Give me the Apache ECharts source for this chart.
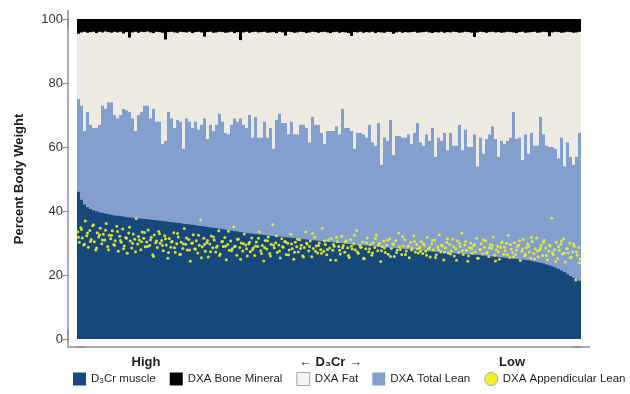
<!DOCTYPE html>
<html>
<head>
<meta charset="utf-8">
<script src="https://cdn.jsdelivr.net/npm/echarts@6/dist/echarts.min.js"></script>
<style>
  html, body { margin: 0; padding: 0; background: #fff; }
  #chart { width: 630px; height: 394px; }
</style>
</head>
<body>
<div id="chart"></div>
<script>
// subjects ranked by D3Cr muscle, high -> low (percent of body weight)
const d3crMuscle = [
  46, 43.5, 42, 41.2, 40.6, 40.2, 39.9, 39.6, 39.4, 39.2,
  39.0, 38.8, 38.6, 38.5, 38.4, 38.3, 38.1, 38.0, 37.9, 37.8,
  37.7, 37.6, 37.5, 37.4, 37.3, 37.2, 37.1, 37.0, 36.9, 36.8,
  36.6, 36.5, 36.4, 36.3, 36.2, 36.0, 35.9, 35.8, 35.7, 35.6,
  35.4, 35.3, 35.2, 35.0, 34.9, 34.8, 34.6, 34.5, 34.3, 34.2,
  34.0, 33.9, 33.7, 33.6, 33.4, 33.3, 33.1, 33.0, 32.9, 32.8,
  32.7, 32.6, 32.5, 32.4, 32.3, 32.2, 32.1, 32.0, 31.9, 31.8,
  31.7, 31.6, 31.5, 31.4, 31.3, 31.2, 31.1, 31.0, 30.9, 30.8,
  30.7, 30.6, 30.5, 30.4, 30.3, 30.2, 30.1, 30.0, 29.9, 29.8,
  29.7, 29.6, 29.5, 29.4, 29.3, 29.3, 29.2, 29.1, 29.0, 28.9,
  28.8, 28.7, 28.6, 28.6, 28.5, 28.4, 28.4, 28.3, 28.2, 28.1,
  28.0, 28.0, 27.9, 27.8, 27.7, 27.6, 27.5, 27.4, 27.3, 27.2,
  27.1, 27.1, 27.0, 26.9, 26.9, 26.8, 26.7, 26.7, 26.6, 26.5,
  26.5, 26.4, 26.3, 26.3, 26.2, 26.1, 26.0, 25.9, 25.8, 25.7,
  25.6, 25.5, 25.4, 25.3, 25.2, 25.1, 25.0, 24.9, 24.8, 24.7,
  24.6, 24.4, 24.2, 24.0, 23.8, 23.6, 23.3, 23.0, 22.7, 22.3,
  21.9, 21.4, 20.9, 20.3, 19.7, 19.1, 18.6, 18.2
];

const dxaLean = [
  75, 73, 65, 71, 67, 66, 66, 67, 73, 72,
  74, 74, 70, 69, 70, 72, 71.5, 71, 69, 65,
  70, 71, 73, 73, 69, 72, 68, 68, 61, 62,
  71, 69, 66, 68.5, 68, 59.5, 69, 68, 66, 68,
  65.5, 67, 69, 62.5, 67, 65, 67, 70.5, 68, 64.5,
  64, 67, 69, 68, 69, 67, 66, 70, 63, 69.5,
  63, 63, 68, 63, 66, 59.5, 68.5, 70.5, 67.5, 67.5,
  64, 68, 64, 64, 67, 67, 66, 61.5, 69.5, 67,
  67, 64.5, 61, 65, 65, 65, 66.5, 64, 72, 66,
  66, 65, 59.5, 64.5, 64.5, 64, 63, 67, 61.5, 60.5,
  67.5, 54.5, 63, 62, 68.5, 57.5, 63.5, 63.5, 63, 63,
  64, 61, 64.5, 67.5, 61.5, 60.5, 64, 62, 66, 57,
  63, 62, 64.5, 59, 64.5, 60.5, 60.5, 67, 59, 65.5,
  60, 60, 64, 54, 63, 58, 62.5, 64, 66.5, 62.5,
  57, 62, 61, 62, 63, 71, 62.5, 63, 56, 64,
  58, 64.5, 60.5, 60.5, 69.5, 64, 60.5, 60, 60, 59.5,
  56.5, 63, 54, 61.5, 57, 54.5, 57, 64.5
];

const dxaFat = [
  20.4, 22.8, 31, 24.7, 28.9, 30, 29.6, 29, 22.8, 24.1,
  21.9, 21.7, 26, 26.8, 26, 23.5, 24.4, 23.2, 26.8, 31,
  25.7, 25, 22.9, 23.1, 26.8, 23.6, 28, 27.9, 34.7, 31.6,
  24.9, 27, 29.8, 27.2, 28, 36.4, 26.8, 28, 29.6, 27.9,
  30.5, 28.8, 25.5, 33.4, 29, 30.7, 28.8, 25.5, 27.9, 31.2,
  31.8, 29, 26.6, 27.9, 24.4, 28.8, 30, 25.7, 32.9, 26.5,
  32.8, 32.9, 28, 32.7, 29.8, 36.4, 27.1, 25.5, 28.3, 27.3,
  32, 27.9, 31.7, 31.8, 29, 28.9, 29.6, 34.3, 26.5, 28.9,
  28.7, 31.4, 35, 30.8, 30.6, 30.9, 29.5, 31.7, 23.9, 29.8,
  29.6, 29.7, 36.4, 31.3, 31.5, 31.7, 32.9, 28.8, 34.5, 35.1,
  28.4, 41.3, 32.7, 34, 27.4, 37.9, 32.3, 32.5, 32.7, 32.9,
  31.8, 34.9, 31.5, 28.2, 34.3, 35.4, 32, 33.8, 29.6, 38.9,
  32.8, 34, 31.2, 36.9, 31.3, 35.5, 35.4, 28.7, 36.8, 30.5,
  35.9, 35.7, 30.4, 41.8, 33, 37.9, 33.2, 31.9, 29.5, 33.3,
  38.9, 33.7, 34.8, 34, 32.9, 24.8, 33.1, 32.9, 40, 31.7,
  37.8, 31.4, 35.5, 35.2, 26.3, 32, 35.4, 34.6, 35.8, 36.5,
  39.4, 32.7, 41.8, 34.5, 38.9, 41.2, 38.8, 31.5
];

const dxaBone = [
  4.6, 4.2, 4, 4.3, 4.1, 4, 4.4, 4, 4.2, 3.9,
  4.1, 4.3, 4, 4.2, 4, 4.5, 4.1, 5.8, 4.2, 4,
  4.3, 4, 4.1, 3.9, 4.2, 4.4, 4, 4.1, 4.3, 6.4,
  4.1, 4, 4.2, 4.3, 4, 4.1, 4.2, 4, 4.4, 4.1,
  4, 4.2, 5.5, 4.1, 4, 4.3, 4.2, 4, 4.1, 4.3,
  4.2, 4, 4.4, 4.1, 6.6, 4.2, 4, 4.3, 4.1, 4,
  4.2, 4.1, 4, 4.3, 4.2, 4.1, 4.4, 4, 4.2, 5.2,
  4, 4.1, 4.3, 4.2, 4, 4.1, 4.4, 4.2, 4, 4.1,
  4.3, 4.1, 4, 4.2, 4.4, 4.1, 4, 4.3, 4.1, 4.2,
  4.4, 5.3, 4.1, 4.2, 4, 4.3, 4.1, 4.2, 4, 4.4,
  4.1, 4.2, 4.3, 4, 4.1, 4.6, 4.2, 4, 4.3, 4.1,
  4.2, 4.1, 4, 4.3, 4.2, 4.1, 4, 4.2, 4.4, 4.1,
  4.2, 4, 4.3, 4.1, 4.2, 4, 4.1, 4.3, 4.2, 4,
  4.1, 4.3, 5.6, 4.2, 4, 4.1, 4.3, 4.1, 4, 4.2,
  4.1, 4.3, 4.2, 4, 4.1, 4.2, 4.4, 4.1, 4, 4.3,
  4.2, 4.1, 4, 4.3, 4.2, 4, 4.1, 5.4, 4.2, 4,
  4.1, 4.3, 4.2, 4, 4.1, 4.3, 4.2, 4
];

// DXA appendicular lean, same ranking (two subjects per bar slot)
const dxaAppLean = [
  33.5, 30.2, 34.8, 31.6, 29.4, 36.9, 32.3, 28.7, 33.9, 31.1, 35.4, 30.4, 27.8, 33.2, 31.9, 34.6, 29.8, 32.7, 30.9, 36.1, 28.9, 32.4,
  31.3, 33.8, 29.5, 30.7, 35.2, 27.4, 32.1, 30.2, 34.4, 29.1, 31.7, 26.8, 33.1, 30.6, 28.4, 32.8, 31.2, 37.6, 29.7, 30.9, 27.9, 33.4,
  31.5, 28.8, 30.3, 34.1, 29.2, 31.8, 26.3, 32.5, 30.1, 28.6, 33.6, 29.9,
  30.8, 27.6, 32.3, 29.4, 25.2, 31.4, 28.7, 30.5, 33.2, 27.1, 29.8, 31.9, 26.4, 30.2, 28.3, 34.5, 29.6, 27.8, 31.1, 24.3,
  29.9, 32.6, 28.1, 30.7, 26.9, 29.3, 37.2, 28.8, 31.5, 27.4, 30.1, 25.6, 29.7, 32.2, 28.5, 30.9, 27.2, 29.1, 33.8, 26.6,
  30.4, 28.9, 31.7, 24.8, 29.5, 27.7, 30.6, 28.2, 35.1, 29.0, 26.2, 31.2, 28.6, 30.0, 27.5, 32.8, 29.4, 25.9,
  29.8, 27.3, 31.6, 28.4, 26.1, 30.3, 28.9, 33.5, 27.6, 29.2, 24.4, 30.8, 28.1, 31.9, 26.7, 29.6, 35.8, 28.5, 30.1, 27.0,
  29.4, 25.3, 31.3, 28.7, 30.5, 26.4, 29.9, 27.8, 32.7, 28.2, 24.9, 30.2, 28.8, 27.2, 31.0, 29.3, 26.0, 28.6, 33.4, 29.7,
  27.5, 30.6, 25.7, 28.3, 31.8, 29.1, 26.9, 30.0, 28.0, 34.6, 27.4, 29.5, 26.3, 30.9, 28.4, 31.4, 27.7, 29.0, 24.6, 30.4,
  28.9, 26.6, 32.1, 29.2, 27.1, 30.7, 28.5, 25.5, 31.1, 28.1, 29.8, 27.9, 33.9, 26.8, 29.3, 28.7, 30.3, 25.1, 28.2, 31.6,
  27.3, 29.6, 26.2, 30.1, 28.6, 32.5, 27.6, 29.9, 24.2, 28.8, 30.6, 27.0, 29.4, 26.5, 31.3, 28.3, 29.7, 25.8, 30.8, 27.8,
  33.1, 28.0, 26.4, 29.1, 31.0, 27.5, 28.9, 25.4, 30.2, 28.4, 32.3, 27.2, 29.5, 26.9,
  28.6, 30.4, 26.7, 29.3, 27.4, 31.8, 28.1, 25.6, 29.7, 27.9, 30.9, 26.3, 28.8, 32.6, 27.2, 29.1, 24.7, 28.4, 30.2, 26.8,
  29.6, 27.5, 31.2, 25.9, 28.2, 30.7, 27.0, 28.9, 33.1, 26.4, 29.4, 27.7, 24.3, 28.5, 30.0, 26.9, 29.2, 27.3, 31.5, 25.2,
  28.0, 29.8, 26.6, 28.7, 30.6, 27.1, 25.8, 29.5, 28.3, 31.9, 26.2, 27.8, 29.0, 24.9, 28.6, 30.3, 26.5, 27.6, 29.9, 32.4,
  25.5, 28.1, 27.0, 30.1, 26.3, 28.8, 29.4, 24.5, 27.4, 31.1, 26.0, 28.5, 29.7, 27.2, 25.3, 30.5, 26.8, 28.2, 31.6, 25.7,
  27.9, 29.3, 26.1, 30.8, 28.4, 24.8, 27.5, 29.1, 37.7, 26.4, 28.0, 30.2, 25.1, 27.7, 29.6, 26.6, 31.3, 24.1, 28.3, 26.9,
  30.0, 25.6, 27.3, 29.0, 18.4, 26.2, 28.6, 25.0
];

// further subjects, one per bar slot
const dxaAppLeanB = [
  31.8, 34.2, 29.6, 33.1, 30.5, 35.7, 28.4, 32.6, 30.9, 34.0, 27.9,
  32.4, 29.3, 33.6, 30.8, 28.2, 31.5, 34.9, 29.9, 27.3, 32.0, 30.4, 33.3, 28.9, 31.0, 25.8, 30.6, 32.9,
  29.2, 31.3, 27.0, 30.3, 28.5, 33.0, 26.5, 29.7, 31.6, 27.8, 30.0, 28.1, 32.4, 25.4, 29.5, 30.8, 27.3,
  31.9, 28.7, 26.1, 30.5, 29.0, 33.7, 27.6, 28.9, 31.2, 24.9, 29.8, 28.2,
  30.2, 27.9, 29.1, 31.5, 26.7, 28.6, 30.7, 25.9, 29.4, 32.2, 27.5, 28.8, 30.4, 26.3, 29.7, 27.1, 31.2,
  28.3, 25.6, 30.0, 28.9, 33.0, 27.4, 29.2, 26.8, 30.6, 28.0, 24.7, 29.5, 31.7, 27.7, 28.5, 30.3, 26.1,
  29.0, 32.4, 27.2, 28.7, 25.2, 30.1, 28.2, 26.9, 31.4, 29.3, 27.6, 28.4, 30.9, 25.8, 29.6, 27.0, 28.8,
  32.0, 26.4, 29.1, 27.8, 30.5, 28.1,
  27.4, 29.8, 26.2, 28.6, 30.8, 25.5, 28.0, 29.4, 27.1, 31.3, 26.6, 28.9, 24.6, 29.9, 27.6, 30.4, 26.0,
  28.3, 29.6, 25.2, 27.9, 31.0, 26.8, 28.5, 29.2, 24.4, 27.3, 30.1, 28.7, 26.3, 29.5, 25.7, 27.7, 30.7,
  28.1, 26.5, 29.0, 31.8, 25.0, 27.5, 28.4, 30.2, 26.1, 29.3, 27.0, 24.2, 28.8, 30.6, 26.9, 28.2, 25.4,
  29.7, 27.2, 23.8
];

const xTickLabels = ['High', '\u2190 D\u2083Cr \u2192', 'Low'];
const xTickAt = [23, 84.5, 145];
const yTicks = [0, 20, 40, 60, 80, 100];

const nSubjects = dxaLean.length;
const ranks = dxaLean.map((_, i) => i);
const appLeanPoints = dxaAppLean
  .map((v, k) => [(k + 0.5) * nSubjects / dxaAppLean.length, v])
  .concat(dxaAppLeanB.map((v, i) => [i + 0.5, v]));

const C = {
  muscle: '#17487b',
  lean: '#829fce',
  fat: '#edeae2',
  bone: '#000000',
  app: '#ecec2c',
  axis: '#8f8f8f',
  text: '#1e1e1e',
};

const chart = echarts.init(document.getElementById('chart'), null, { renderer: 'canvas' });

const barBase = {
  type: 'bar',
  barCategoryGap: '0%',
  barGap: '-100%',
  silent: true,
  xAxisIndex: 0,
  yAxisIndex: 0,
};

// axis lines run a little past the plot area, like the original figure
const axisLineStyle = {
  show: true,
  onZero: false,
  symbol: ['rect', 'rect'],
  symbolSize: [1.5, 18],
  lineStyle: { color: C.axis, width: 1.5 },
};

chart.setOption({
  animation: false,
  textStyle: { fontFamily: '"Liberation Sans", Arial, sans-serif' },
  grid: { left: 77, right: 49, top: 19, bottom: 55, containLabel: false },
  legend: {
    left: 68,
    bottom: 3,
    width: 600,
    itemWidth: 13,
    itemHeight: 13,
    itemGap: 14,
    textStyle: { fontSize: 11.5, color: C.text },
    data: [
      { name: 'D\u2083Cr muscle', icon: 'rect' },
      { name: 'DXA Bone Mineral', icon: 'rect' },
      { name: 'DXA Fat', icon: 'rect', itemStyle: { color: '#f7f6ee', borderColor: '#a8a8a8', borderWidth: 1 } },
      { name: 'DXA Total Lean', icon: 'rect' },
      { name: 'DXA Appendicular Lean', icon: 'circle', itemStyle: { color: '#f2ee10', borderColor: '#a0a0a0', borderWidth: 1 } },
    ],
    selectedMode: false,
  },
  xAxis: [
    {
      type: 'category',
      data: ranks,
      position: 'bottom',
      offset: 8,
      axisLine: axisLineStyle,
      axisTick: { show: false },
      axisLabel: { show: false },
      splitLine: { show: false },
    },
    {
      type: 'value',
      min: 0,
      max: nSubjects,
      position: 'bottom',
      offset: 8,
      axisLine: { show: false },
      axisTick: { show: false },
      splitLine: { show: false },
      axisLabel: {
        customValues: xTickAt,
        formatter: (v) => xTickLabels[xTickAt.indexOf(v)] || '',
        fontSize: 13,
        fontWeight: 'bold',
        color: C.text,
        margin: 9,
      },
    },
  ],
  yAxis: {
    type: 'value',
    min: 0,
    max: 100,
    interval: 20,
    offset: 9,
    name: 'Percent Body Weight',
    nameLocation: 'middle',
    nameGap: 42,
    nameTextStyle: { fontSize: 13, fontWeight: 'bold', color: C.text },
    axisLine: axisLineStyle,
    axisTick: { show: true, length: 5, lineStyle: { color: C.axis, width: 1.2 } },
    axisLabel: {
      fontSize: 13,
      color: '#333',
      margin: 5,
      customValues: yTicks,
    },
    splitLine: { show: false },
  },
  series: [
    Object.assign({}, barBase, {
      name: 'DXA Total Lean', stack: 'body', data: dxaLean,
      itemStyle: { color: C.lean },
    }),
    Object.assign({}, barBase, {
      name: 'DXA Fat', stack: 'body', data: dxaFat,
      itemStyle: { color: C.fat },
    }),
    Object.assign({}, barBase, {
      name: 'DXA Bone Mineral', stack: 'body', data: dxaBone,
      itemStyle: { color: C.bone },
    }),
    Object.assign({}, barBase, {
      name: 'D\u2083Cr muscle', data: d3crMuscle, z: 3,
      itemStyle: { color: C.muscle },
    }),
    {
      name: 'DXA Appendicular Lean',
      type: 'scatter',
      xAxisIndex: 1,
      yAxisIndex: 0,
      data: appLeanPoints,
      symbol: 'circle',
      symbolSize: 3,
      silent: true,
      z: 5,
      itemStyle: { color: C.app, opacity: 0.9 },
    },
  ],
});
</script>
</body>
</html>
